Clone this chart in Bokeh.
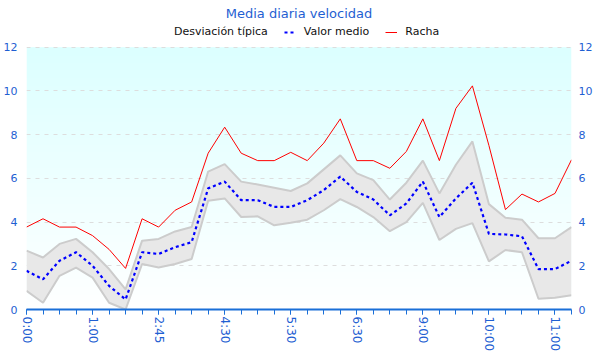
import numpy as np
from bokeh.plotting import figure
from bokeh.models import (ColumnDataSource, LinearAxis, FixedTicker, Legend,
                          LegendItem, Range1d)
from bokeh.embed import file_html
from bokeh.resources import INLINE

# ---- data ----
labels = ["0:00", "0:15", "0:30", "0:45", "1:00", "1:15", "1:30", "2:00",
          "2:45", "3:15", "3:45", "4:15", "4:30", "4:45", "5:00", "5:15",
          "5:30", "5:45", "6:00", "6:15", "6:30", "7:00", "8:00", "8:30",
          "9:00", "9:15", "9:30", "9:45", "10:00", "10:15", "10:30", "10:45",
          "11:00", "11:15"]
racha = [3.77, 4.15, 3.77, 3.77, 3.38, 2.75, 1.88, 4.15, 3.77, 4.54, 4.92,
         7.15, 8.34, 7.15, 6.81, 6.81, 7.19, 6.81, 7.61, 8.72, 6.81, 6.81,
         6.46, 7.23, 8.72, 6.81, 9.2, 10.23, 7.5, 4.57, 5.28, 4.92, 5.31, 6.85]
media = [1.77, 1.38, 2.23, 2.62, 2.0, 1.08, 0.46, 2.62, 2.54, 2.85, 3.08,
         5.54, 5.85, 5.0, 5.0, 4.69, 4.69, 5.0, 5.46, 6.08, 5.38, 5.03,
         4.31, 4.85, 5.85, 4.23, 5.08, 5.8, 3.46, 3.43, 3.35, 1.85, 1.85, 2.23]
desv_sup = [2.69, 2.38, 3.0, 3.23, 2.62, 1.85, 0.92, 3.15, 3.23, 3.57, 3.77,
            6.31, 6.65, 5.85, 5.72, 5.57, 5.42, 5.77, 6.41, 7.05, 6.23, 5.92,
            5.03, 5.8, 6.81, 5.31, 6.62, 7.69, 4.82, 4.2, 4.11, 3.26, 3.26, 3.77]
desv_inf = [0.85, 0.31, 1.54, 1.92, 1.46, 0.31, 0.0, 2.08, 1.92, 2.08, 2.31,
            4.97, 5.08, 4.23, 4.26, 3.85, 3.97, 4.11, 4.54, 5.05, 4.69, 4.23,
            3.58, 4.0, 4.88, 3.18, 3.69, 3.95, 2.2, 2.72, 2.62, 0.49, 0.54, 0.65]
y_ticks = [0, 2, 4, 6, 8, 10, 12]
y_max = 12

idx = list(range(len(labels)))
src = ColumnDataSource(dict(x=idx, racha=racha, media=media,
                            sup=desv_sup, inf=desv_inf))

BLUE_TXT = "#1f5fd2"
AXIS_BLUE = "#1a6fd8"
FONT = "DejaVu Sans"

# extra head-room above the data area holds the legend (legends are clipped
# to the frame)
Y_TOP = 13.22

p = figure(width=595, height=354, output_backend="svg", toolbar_location=None,
           x_range=Range1d(0, len(labels) - 1), y_range=Range1d(0, Y_TOP),
           min_border_left=26, min_border_right=21, min_border_top=20,
           min_border_bottom=0)
p.outline_line_color = None
p.background_fill_color = "white"
p.border_fill_color = "white"

# gradient background (cyan at top, white at bottom) over the data area
n = 256
t = np.linspace(0, 1, n)
img = np.empty((n, 1), dtype=np.uint32)
view = img.view(dtype=np.uint8).reshape((n, 1, 4))
view[:, 0, 0] = (255 - 35 * t).astype(np.uint8)
view[:, 0, 1] = 255
view[:, 0, 2] = 255
view[:, 0, 3] = 255
p.image_rgba(image=[img], x=0, y=0, dw=len(labels) - 1, dh=y_max,
             level="image")

# title
p.title.text = "Media diaria velocidad"
p.title.align = "center"
p.title.text_color = BLUE_TXT
p.title.text_font = FONT
p.title.text_font_size = "13px"
p.title.text_font_style = "normal"
p.title.standoff = 0

# band
p.varea(x="x", y1="inf", y2="sup", source=src, fill_color="#e8e8e8")
p.line(x="x", y="sup", source=src, line_color="#cccccc", line_width=2)
p.line(x="x", y="inf", source=src, line_color="#cccccc", line_width=2)
band_leg = p.scatter(x=[], y=[], marker="square", size=9,
                     fill_color="#e8e8e8", line_color="#888888")

r_racha = p.line(x="x", y="racha", source=src, line_color="#ff0000",
                 line_width=1)
r_media = p.line(x="x", y="media", source=src, line_color="#0000ff",
                 line_width=2.2, line_dash="3 3")

# grid
p.xgrid.grid_line_color = None
p.ygrid.grid_line_color = "#dddddd"
p.ygrid.grid_line_dash = "4 5"
p.ygrid.ticker = FixedTicker(ticks=y_ticks)

# axes
xa = p.xaxis[0]
xa.axis_label = None
xa.ticker = FixedTicker(ticks=idx[::4], minor_ticks=idx)
xa.major_label_overrides = {i: labels[i] for i in idx[::4]}
xa.major_label_orientation = "vertical"
xa.axis_line_color = AXIS_BLUE
xa.axis_line_width = 2
xa.major_tick_line_color = AXIS_BLUE
xa.minor_tick_line_color = AXIS_BLUE
xa.major_tick_in = 0
xa.major_tick_out = 5
xa.minor_tick_in = 0
xa.minor_tick_out = 5
xa.major_label_standoff = 2
xa.axis_label_standoff = 0
xa.major_label_text_color = BLUE_TXT
xa.major_label_text_font = FONT
xa.major_label_text_font_size = "12px"

ya = p.yaxis[0]
ya.ticker = FixedTicker(ticks=y_ticks)
ya2 = LinearAxis(ticker=FixedTicker(ticks=y_ticks))
p.add_layout(ya2, "right")
for a, so in ((ya, 9), (ya2, 7)):
    a.axis_label = None
    a.axis_line_color = None
    a.major_tick_line_color = None
    a.minor_tick_line_color = None
    a.major_tick_in = 0
    a.major_tick_out = 0
    a.minor_tick_out = 0
    a.major_label_standoff = so
    a.axis_label_standoff = 0
    a.major_label_text_color = BLUE_TXT
    a.major_label_text_font = FONT
    a.major_label_text_font_size = "11px"

legend = Legend(items=[
    LegendItem(label="Desviación típica", renderers=[band_leg]),
    LegendItem(label="Valor medio", renderers=[r_media]),
    LegendItem(label="Racha", renderers=[r_racha]),
], orientation="horizontal", location=(128, 271))
legend.label_text_font = FONT
legend.label_text_font_size = "11px"
legend.label_text_color = "#111111"
legend.glyph_width = 12
legend.glyph_height = 12
legend.label_standoff = 8
legend.spacing = 16
legend.padding = 0
legend.margin = 0
legend.border_line_color = None
legend.background_fill_alpha = 0
p.add_layout(legend)

open("out.html", "w").write(file_html(p, INLINE))
